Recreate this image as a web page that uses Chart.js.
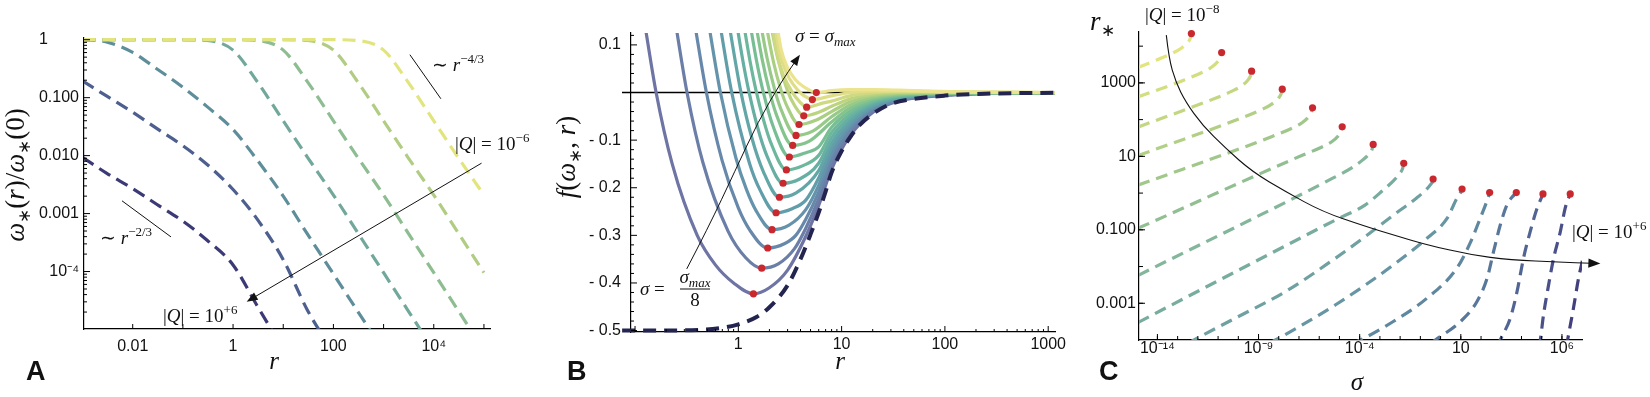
<!DOCTYPE html>
<html>
<head>
<meta charset="utf-8">
<script src="https://cdn.jsdelivr.net/npm/chart.js@4.4.1/dist/chart.umd.min.js"></script>
<style>
  html, body { margin: 0; padding: 0; background: #fff; }
  #wrap { position: relative; width: 1650px; height: 397px; overflow: hidden; }
  canvas { position: absolute; top: 0; }
</style>
</head>
<body>
<div id="wrap">
  <canvas id="chartA" width="540" height="397" style="left:0"></canvas>
  <canvas id="chartB" width="560" height="397" style="left:540px"></canvas>
  <canvas id="chartC" width="600" height="397" style="left:1050px"></canvas>
</div>
<script>
const SANS = "'Liberation Sans', Arial, sans-serif";
const SERIF = "'Liberation Serif', 'Times New Roman', serif";

// ---------- panel A : omega*(r)/omega*(0) vs r ----------
const aR = [0.001, 0.003, 0.01, 0.03, 0.1, 0.3, 1, 3, 10, 30, 100, 300, 1000, 3000, 1e4, 3e4, 1e5];
const aOmega1 = [0.0093, 0.0050, 0.0027, 0.00145, 7.4e-4, 3.5e-4, 1.3e-4, 2.6e-5, 4.5e-6, null, null, null, null, null, null, null, null];
const aOmega2 = [0.195, 0.107, 0.056, 0.0295, 0.0148, 0.0071, 0.0026, 8.1e-4, 1.6e-4, 2.2e-5, 4e-6, null, null, null, null, null, null];
const aOmega3 = [1, 0.912, 0.603, 0.316, 0.151, 0.0708, 0.0282, 0.0085, 0.002, 4.5e-4, 9.1e-5, 2.1e-5, 4.3e-6, null, null, null, null];
const aOmega4 = [1, 1, 1, 1, 1, 0.97, 0.661, 0.191, 0.0398, 0.00955, 0.00209, 4.79e-4, 9.55e-5, 2.19e-5, 4.37e-6, null, null];
const aOmega5 = [1, 1, 1, 1, 1, 1, 1, 0.97, 0.661, 0.191, 0.0398, 0.00955, 0.00209, 4.79e-4, 9.55e-5, 2.19e-5, 4.37e-6];
const aOmega6 = [1, 1, 1, 1, 1, 1, 1, 1, 1, 0.97, 0.661, 0.191, 0.0398, 0.00955, 0.00209, 4.79e-4, 9.55e-5];
const aOmega7 = [1, 1, 1, 1, 1, 1, 1, 1, 1, 1, 1, 0.97, 0.661, 0.191, 0.0398, 0.00955, 0.00209];
const aSeries = [aOmega1, aOmega2, aOmega3, aOmega4, aOmega5, aOmega6, aOmega7];
const aColors = ['#3b3a76', '#4d5f8f', '#5f8e9b', '#72a89c', '#8dbd91', '#b1cd83', '#e2e47e'];
const aXTicks = [0.01, 1, 100, 1e4];
const aXTickLabels = ['0.01', '1', '100', '10\u2074'];
const aYTicks = [1e-4, 0.001, 0.01, 0.1, 1];
const aYTickLabels = ['10\u207b\u2074', '0.001', '0.010', '0.100', '1\u2008\u2007\u2007\u2007'];
const aArrow = [[8.95e4, 7.41e-3], [1.866, 3.02e-5]];
const aSlopeSteep = [[3342, 0.551], [1.387e4, 0.0957]];
const aSlopeShallow = [[6.12e-3, 1.66e-3], [0.0579, 3.96e-4]];

// ---------- panel B : f(omega*, r) vs r ----------
const bCurves = [
  [[0.125, 0.14], [0.16, 0.0], [0.229, -0.15], [0.4, -0.3], [0.6, -0.362], [0.9, -0.400], [1.4, -0.4228], [2.0, -0.41], [3, -0.373], [4.5, -0.302], [6, -0.237], [8, -0.161], [12, -0.0915], [20, -0.0418], [35, -0.0184], [70, -0.0087], [200, -0.0028], [1200, -0.0005]],
  [[0.248, 0.142], [0.32, -0.002], [0.454, -0.147], [0.795, -0.291], [1.18, -0.347], [1.685, -0.369], [2.44, -0.360], [3.5, -0.328], [4.5, -0.285], [6, -0.2235], [8, -0.150], [12, -0.085], [20, -0.0386], [35, -0.0169], [70, -0.0079], [200, -0.0025], [1200, -0.0004]],
  [[0.381, 0.14], [0.49, 0.001], [0.697, -0.143], [1.0, -0.2425], [1.3, -0.29], [1.926, -0.3266], [2.79, -0.3176], [3.6, -0.30], [4.5, -0.266], [6, -0.209], [8, -0.139], [12, -0.0785], [20, -0.0354], [35, -0.0153], [70, -0.0072], [200, -0.0023], [1200, -0.0004]],
  [[0.519, 0.141], [0.668, 0.002], [0.949, -0.138], [1.2, -0.204], [1.484, -0.248], [2.12, -0.288], [3.07, -0.279], [4.5, -0.246], [6, -0.195], [8, -0.128], [12, -0.072], [20, -0.0323], [35, -0.0138], [70, -0.0064], [200, -0.002], [1200, -0.0004]],
  [[0.661, 0.146], [0.858, 0.003], [1.28, -0.148], [1.624, -0.205], [2.32, -0.2525], [3.36, -0.2435], [4.5, -0.226], [6, -0.1795], [8, -0.117], [12, -0.0655], [20, -0.0291], [35, -0.0122], [70, -0.0056], [200, -0.0018], [1200, -0.0003]],
  [[0.805, 0.149], [1.055, 0.003], [1.355, -0.096], [1.75, -0.1665], [2.5, -0.22], [3.63, -0.211], [6, -0.164], [8, -0.106], [12, -0.059], [20, -0.0259], [35, -0.0106], [70, -0.0048], [200, -0.0015], [1200, -0.0003]],
  [[0.952, 0.152], [1.1, 0.070], [1.258, 0.005], [1.55, -0.076], [1.9, -0.134], [2.71, -0.1906], [3.93, -0.1816], [6, -0.1485], [8, -0.095], [12, -0.0525], [20, -0.0227], [35, -0.0091], [70, -0.004], [200, -0.0013], [1200, -0.0003]],
  [[1.1, 0.158], [1.3, 0.065], [1.477, 0.006], [1.75, -0.057], [2.044, -0.103], [2.92, -0.1626], [4.23, -0.1536], [6, -0.132], [8, -0.084], [12, -0.046], [20, -0.0195], [35, -0.0075], [70, -0.0033], [200, -0.001], [1200, -0.0003]],
  [[1.25, 0.166], [1.5, 0.067], [1.74, 0.002], [2.184, -0.0725], [3.12, -0.1354], [4.52, -0.1264], [6, -0.114], [8, -0.073], [12, -0.0395], [20, -0.0163], [35, -0.0059], [70, -0.0025], [200, -0.0008], [1200, -0.0002]],
  [[1.4, 0.173], [1.7, 0.070], [2.0, 0.003], [2.35, -0.048], [3.36, -0.1111], [4.87, -0.1021], [8, -0.062], [12, -0.033], [20, -0.0131], [35, -0.0044], [70, -0.0017], [200, -0.0005], [1200, -0.0002]],
  [[1.55, 0.176], [1.9, 0.072], [2.25, 0.006], [2.534, -0.030], [3.62, -0.0902], [5.25, -0.0812], [8, -0.051], [12, -0.0265], [20, -0.0099], [35, -0.0028], [70, -0.0009], [200, -0.0003], [1200, -0.0002]],
  [[1.7, 0.188], [2.2, 0.062], [2.6, 0.004], [2.95, -0.028], [3.87, -0.0672], [5.61, -0.0582], [8, -0.040], [12, -0.020], [20, -0.0068], [35, -0.0013], [70, -0.0002], [200, 0.0], [1200, -0.0001]],
  [[1.9, 0.182], [2.4, 0.073], [3.0, 0.003], [3.5, -0.027], [4.3, -0.049], [6.24, -0.040], [8, -0.029], [12, -0.0135], [20, -0.0036], [35, 0.0003], [70, 0.0007], [200, 0.0003], [1200, -0.0001]],
  [[2.05, 0.17], [2.35, 0.085], [2.75, 0.035], [3.3, 0.002], [3.95, -0.02], [4.59, -0.0308], [6.66, -0.0218], [8, -0.018], [12, -0.007], [20, -0.0004], [35, 0.0019], [70, 0.0014], [200, 0.0005], [1200, -0.0001]],
  [[2.2, 0.16], [2.5, 0.085], [2.9, 0.043], [3.4, 0.017], [4.1, -0.003], [4.6, -0.010], [5.21, -0.0148], [8, -0.007], [12, -0.0005], [20, 0.0028], [35, 0.0034], [70, 0.0022], [200, 0.0008], [1200, 0]],
  [[2.3, 0.16], [2.6, 0.09], [3.0, 0.052], [3.54, 0.028], [4.3, 0.012], [5.0, 0.004], [5.69, -0.0002], [8, 0.004], [12, 0.006], [20, 0.006], [35, 0.005], [70, 0.003], [200, 0.001], [1200, 0]]
];
const bColors = ['#6e74a3', '#6b7ea8', '#6788aa', '#6493ab', '#629daa', '#62a6a7', '#66afa2', '#6db79c',
                 '#78be95', '#86c48e', '#97ca88', '#a9cf83', '#bcd480', '#cfd981', '#dfde86', '#ebe38d'];
const bMinR = [1.40, 1.685, 1.926, 2.12, 2.32, 2.50, 2.71, 2.92, 3.12, 3.36, 3.62, 3.87, 4.30, 4.59, 5.21, 5.69];
const bMinF = [-0.4228, -0.369, -0.3266, -0.288, -0.2525, -0.22, -0.1906, -0.1626, -0.1354, -0.1111, -0.0902, -0.0672, -0.049, -0.0308, -0.0148, -0.0002];
const bEnvelopeR = [0.075, 0.3, 0.7, 1, 1.5, 2, 3, 4, 5, 6, 7, 8, 10, 12, 15, 20, 30, 50, 100, 200, 1200];
const bEnvelopeF = [-0.5, -0.4995, -0.494, -0.487, -0.4715, -0.451, -0.405, -0.35, -0.298, -0.252, -0.208, -0.168, -0.123, -0.095, -0.068, -0.045, -0.024, -0.0135, -0.0065, -0.003, -0.0004];
const bXTicks = [1, 10, 100, 1000];
const bXTickLabels = ['1', '10', '100', '1000'];
const bYTicks = [-0.5, -0.4, -0.3, -0.2, -0.1, 0.1];
const bYTickLabels = ['- 0.5', '- 0.4', '- 0.3', '- 0.2', '- 0.1', '0.1'];
const bArrow = [[0.3166, -0.3705], [0.513, -0.2833], [0.929, -0.1648], [1.562, -0.0600], [2.63, 0.0236], [3.95, 0.0795]];

// ---------- panel C : r* vs sigma ----------
const cCurves = [
  [[1.12e-15, 2650], [4.79e-15, 3650], [4.79e-14, 6190], [1.51e-13, 8750], [3.02e-13, 12360], [4.27e-13, 16670], [4.79e-13, 21980]],
  [[1.12e-15, 418], [1.496e-13, 1112], [1.496e-12, 1888], [4.73e-12, 2667], [9.44e-12, 3767], [1.334e-11, 5082], [1.496e-11, 6699]],
  [[1.12e-15, 63.0], [4.54e-12, 345], [4.54e-11, 586], [1.436e-10, 828], [2.864e-10, 1170], [4.046e-10, 1578], [4.54e-10, 2080]],
  [[1.12e-15, 10.57], [1.489e-10, 111.9], [1.489e-9, 190.1], [4.71e-9, 268.5], [9.40e-9, 379.3], [1.327e-8, 511.7], [1.489e-8, 674.5]],
  [[1.12e-15, 1.648], [4.667e-9, 34.75], [4.667e-8, 59.02], [1.476e-7, 83.37], [2.944e-7, 117.8], [4.159e-7, 158.9], [4.667e-7, 209.4]],
  [[1.12e-15, 0.1104], [1.368e-7, 10.57], [1.368e-6, 17.95], [4.325e-6, 25.35], [8.63e-6, 35.81], [1.219e-5, 48.31], [1.368e-5, 63.68]],
  [[1.12e-15, 5.754e-3], [4.645e-6, 2.547], [4.645e-5, 5.082], [1.469e-4, 8.128], [2.931e-4, 11.75], [4.140e-4, 15.85], [4.645e-4, 21.18]],
  [[1.12e-15, 3.02e-4], [1.66e-12, 2.455e-3], [3.236e-9, 2.138e-2], [6.457e-6, 0.1862], [1.905e-4, 0.4786], [1.507e-3, 1.230], [4.764e-3, 2.188], [9.506e-3, 3.388], [1.343e-2, 4.786], [1.507e-2, 6.457]],
  [[3.162e-13, 7.943e-5], [6.457e-13, 1e-4], [7.413e-11, 3.981e-4], [2.188e-8, 2.089e-3], [6.457e-6, 1.698e-2], [1.950e-4, 6.607e-2], [4.786e-3, 0.2541], [6.310e-2, 0.7244], [0.1995, 1.259], [0.3388, 1.778], [0.4074, 2.089], [0.4266, 2.415]],
  [[3.162e-9, 7.943e-5], [6.918e-9, 1e-4], [1.445e-7, 2.570e-4], [6.457e-6, 9.12e-4], [1.950e-4, 3.162e-3], [4.786e-3, 1.122e-2], [0.2138, 5.888e-2], [2.089, 0.2042], [6.457, 0.7244], [9.333, 1.0], [11.09, 1.148], [11.53, 1.291]],
  [[3.981e-5, 7.943e-5], [1.096e-4, 1e-4], [4.786e-3, 3.236e-4], [0.2138, 1.380e-3], [6.457, 9.120e-3], [29.51, 4.467e-2], [89.13, 0.1995], [177.8, 0.5248], [239.9, 0.8318], [266.1, 1.033]],
  [[0.3162, 7.943e-5], [0.5495, 1e-4], [9.550, 3.162e-4], [63.10, 1.122e-3], [199.5, 4.786e-3], [416.9, 2.570e-2], [891.3, 0.1349], [1905, 0.4786], [3548, 0.7943], [4898, 0.955], [5534, 1.033]],
  [[631, 6.31e-5], [891.3, 1e-4], [2818, 3.981e-4], [6026, 2.089e-3], [1.259e4, 1.698e-2], [2.692e4, 8.913e-2], [5.888e4, 0.389], [8.913e4, 0.6761], [1.072e5, 0.8511], [1.153e5, 0.9506]],
  [[7.079e4, 6.31e-5], [8.511e4, 1e-4], [1.230e5, 4.898e-4], [2.188e5, 3.162e-3], [3.890e5, 1.698e-2], [8.318e5, 8.913e-2], [1.445e6, 0.389], [1.995e6, 0.6761], [2.399e6, 0.8511], [2.570e6, 0.9506]],
  [[1.660e6, 6.31e-5], [1.905e6, 1e-4], [3.715e6, 7.413e-4], [6.607e6, 4.786e-3], [1.096e7, 1.698e-2], [1.995e7, 7.943e-2]]
];
const cColors = ['#e2e47e', '#d3de7f', '#c3d782', '#b2cf86', '#a1c78b', '#91bf92', '#83b69a', '#78ac9f',
                 '#6fa1a2', '#6695a3', '#5f87a0', '#58779a', '#516493', '#4a518a', '#42407d'];
const cPeakSigma = [4.79e-13, 1.496e-11, 4.54e-10, 1.489e-8, 4.667e-7, 1.368e-5, 4.645e-4, 1.507e-2, 0.4266, 11.53, 266.1, 5534, 1.153e5, 2.570e6];
const cPeakR = [21980, 6699, 2080, 674.5, 209.4, 63.68, 21.18, 6.457, 2.415, 1.291, 1.033, 1.033, 0.9506, 0.9506];
const cArrow = [[2.754e-14, 1.995e4], [3.715e-14, 4571], [7.943e-14, 1072], [2.512e-13, 302], [1.66e-12, 70.8], [2.344e-11, 16.6],
                [4.898e-10, 3.80], [2.188e-8, 1.096], [1.413e-6, 0.3126], [1.950e-4, 0.123], [4.786e-3, 0.0724], [0.2138, 0.0389],
                [29.51, 0.0209], [2818, 0.0151], [8.318e5, 0.0132], [7.943e7, 0.01202]];
const cXTicks = [1e-14, 1e-9, 1e-4, 10, 1e6];
const cXTickLabels = ['10\u207b\u00b9\u2074', '10\u207b\u2079', '10\u207b\u2074', '10', '10\u2076'];
const cYTicks = [0.001, 0.1, 10, 1000];
const cYTickLabels = ['0.001', '0.100', '10', '1000'];

// ---------- helpers ----------
function decades(lo, hi, mults) {
  const out = [];
  for (let e = lo; e <= hi; e++) mults.forEach(m => out.push(m * Math.pow(10, e)));
  return out;
}

function axis(o) {
  return {
    type: o.type, position: o.position, min: o.min, max: o.max, bounds: 'data',
    grid: { display: false, drawTicks: false },
    border: { display: true, color: '#000', width: 1.2 },
    ticks: {
      autoSkip: false, maxRotation: 0, minRotation: 0, padding: o.pad, color: '#111',
      font: { family: SANS, size: 16 },
      callback: (v, i) => o.labels[i]
    },
    afterBuildTicks: s => { s.ticks = o.ticks.map(v => ({ value: v })); },
    afterFit: s => { if (o.position === 'bottom') s.height = o.size; else s.width = o.size; }
  };
}

function inTicks(chart, id, values, len) {
  const s = chart.scales[id], a = chart.chartArea, ctx = chart.ctx;
  ctx.save();
  ctx.strokeStyle = '#000';
  ctx.lineWidth = 1;
  ctx.beginPath();
  values.forEach(v => {
    const p = s.getPixelForValue(v);
    if (s.isHorizontal()) {
      if (p < a.left + 1 || p > a.right + 0.5) return;
      ctx.moveTo(p, a.bottom); ctx.lineTo(p, a.bottom - len);
    } else {
      if (p < a.top - 0.5 || p > a.bottom - 1) return;
      ctx.moveTo(a.left, p); ctx.lineTo(a.left + len, p);
    }
  });
  ctx.stroke();
  ctx.restore();
}

function runs(ctx, parts, x, y, align) {
  let w = 0;
  parts.forEach(p => { ctx.font = p[1]; w += ctx.measureText(p[0]).width; });
  let cx = align === 'center' ? x - w / 2 : x;
  ctx.textAlign = 'left';
  ctx.textBaseline = 'alphabetic';
  parts.forEach(p => {
    ctx.font = p[1];
    ctx.fillText(p[0], cx, y + (p[2] || 0));
    cx += ctx.measureText(p[0]).width;
  });
}
const fs = (size, style) => (style ? style + ' ' : '') + size + 'px ' + SERIF;

function toPx(chart, pts) {
  return pts.map(p => [chart.scales.x.getPixelForValue(p[0]), chart.scales.y.getPixelForValue(p[1])]);
}

function arrowPath(ctx, px, head) {
  const n = px.length;
  const tip = px[n - 1], prev = px[n - 2];
  const dx = tip[0] - prev[0], dy = tip[1] - prev[1], d = Math.hypot(dx, dy);
  const ux = dx / d, uy = dy / d;
  const end = [tip[0] - ux * head * 0.8, tip[1] - uy * head * 0.8];
  ctx.beginPath();
  ctx.moveTo(px[0][0], px[0][1]);
  if (n === 2) {
    ctx.lineTo(end[0], end[1]);
  } else {
    for (let i = 1; i < n - 1; i++) {
      const nx = i + 1 === n - 1 ? end : px[i + 1];
      ctx.quadraticCurveTo(px[i][0], px[i][1], (px[i][0] + nx[0]) / 2, (px[i][1] + nx[1]) / 2);
    }
    ctx.lineTo(end[0], end[1]);
  }
  ctx.stroke();
  const bx = tip[0] - ux * head, by = tip[1] - uy * head, hw = head * 0.38;
  ctx.beginPath();
  ctx.moveTo(tip[0], tip[1]);
  ctx.lineTo(bx - uy * hw, by + ux * hw);
  ctx.lineTo(bx + uy * hw, by - ux * hw);
  ctx.closePath();
  ctx.fill();
}

function segment(chart, pts) {
  const px = toPx(chart, pts), ctx = chart.ctx;
  ctx.beginPath(); ctx.moveTo(px[0][0], px[0][1]); ctx.lineTo(px[1][0], px[1][1]); ctx.stroke();
}

const decor = {
  id: 'decor',
  beforeDatasetsDraw(chart, args, opts) { if (opts.under) opts.under(chart, chart.ctx); },
  afterDraw(chart, args, opts) {
    const ctx = chart.ctx;
    (opts.ticks || []).forEach(t => inTicks(chart, t[0], t[1], t[2]));
    ctx.save();
    ctx.fillStyle = '#111';
    ctx.strokeStyle = '#111';
    ctx.lineWidth = 1;
    if (opts.over) opts.over(chart, ctx);
    ctx.restore();
  }
};
Chart.register(decor);

const common = {
  responsive: false, animation: false, events: [],
  plugins: { legend: { display: false }, tooltip: { enabled: false } }
};

function lineSet(data, color, width, dash, order, clip) {
  return {
    data, borderColor: color, borderWidth: width, borderDash: dash || [], pointRadius: 0,
    fill: false, cubicInterpolationMode: 'monotone', order, clip: clip === undefined ? 0 : clip
  };
}
function dotSet(data) {
  return {
    data, showLine: false, pointRadius: 3.6, pointBackgroundColor: '#c8282e',
    pointBorderWidth: 0, order: 0, clip: false
  };
}

// ---------- chart A ----------
new Chart(document.getElementById('chartA'), {
  type: 'line',
  data: {
    datasets: aSeries.map((vals, i) => lineSet(
      vals.map((v, j) => ({ x: aR[j], y: v })).filter(p => p.y !== null),
      aColors[i], 3.2, [13, 7], 20 - i))
  },
  options: Object.assign({}, common, {
    layout: { padding: { left: 0, right: 50, top: 38, bottom: 0 }, autoPadding: false },
    plugins: Object.assign({}, common.plugins, {
      decor: {
        ticks: [
          ['x', decades(-2, 5, [1]), 5],
          ['y', decades(-5, 0, [1]), 6],
          ['y', decades(-5, 0, [2, 3, 4, 5, 6, 7, 8, 9]), 3]
        ],
        over(chart, ctx) {
          ctx.lineWidth = 1;
          segment(chart, aSlopeSteep);
          segment(chart, aSlopeShallow);
          arrowPath(ctx, toPx(chart, aArrow), 11);
          runs(ctx, [['\u223c ', fs(19)], ['r', fs(19, 'italic')], ['\u22124/3', fs(13), -8]], 432, 71);
          runs(ctx, [['\u223c ', fs(19)], ['r', fs(19, 'italic')], ['\u22122/3', fs(13), -8]], 100, 244);
          runs(ctx, [['|', fs(19)], ['Q', fs(19, 'italic')], ['| = 10', fs(19)], ['\u22126', fs(13), -8]], 455, 150);
          runs(ctx, [['|', fs(19)], ['Q', fs(19, 'italic')], ['| = 10', fs(19)], ['+6', fs(13), -8]], 163, 322);
          runs(ctx, [['r', fs(25, 'italic')]], 274, 369, 'center');
          ctx.save();
          ctx.translate(24, 175);
          ctx.rotate(-Math.PI / 2);
          runs(ctx, [['\u03c9', fs(27, 'italic')], ['\u2217', fs(17), 6], ['(', fs(27)], ['r', fs(27, 'italic')], [')/', fs(27)],
                     ['\u03c9', fs(27, 'italic')], ['\u2217', fs(17), 6], ['(0)', fs(27)]], 0, 0, 'center');
          ctx.restore();
          ctx.font = 'bold 27px ' + SANS;
          ctx.fillText('A', 26, 380);
        }
      }
    }),
    scales: {
      x: axis({ type: 'logarithmic', position: 'bottom', min: 0.00107, max: 1.32e5, ticks: aXTicks, labels: aXTickLabels, pad: 8, size: 68 }),
      y: axis({ type: 'logarithmic', position: 'left', min: 1.02e-5, max: 1.07, ticks: aYTicks, labels: aYTickLabels, pad: 5, size: 84 })
    }
  })
});

// ---------- chart B ----------
const bDatasets = [dotSet(bMinR.map((r, i) => ({ x: r, y: bMinF[i] })))];
bDatasets.push(lineSet(bEnvelopeR.map((r, i) => ({ x: r, y: bEnvelopeF[i] })), '#23244f', 4, [13, 8], 1,
  { left: 10, top: 0, right: 0, bottom: 4 }));
bCurves.forEach((c, i) => bDatasets.push(lineSet(c.map(p => ({ x: p[0], y: p[1] })), bColors[i], 3.2, [], 40 - i)));

new Chart(document.getElementById('chartB'), {
  type: 'line',
  data: { datasets: bDatasets },
  options: Object.assign({}, common, {
    layout: { padding: { left: 0, right: 45, top: 33, bottom: 0 }, autoPadding: false },
    plugins: Object.assign({}, common.plugins, {
      decor: {
        under(chart, ctx) {
          const y0 = chart.scales.y.getPixelForValue(0);
          ctx.save();
          ctx.strokeStyle = '#000';
          ctx.lineWidth = 1.4;
          ctx.beginPath();
          ctx.moveTo(chart.chartArea.left - 9, y0);
          ctx.lineTo(chart.chartArea.right, y0);
          ctx.stroke();
          ctx.restore();
        },
        ticks: [
          ['x', decades(-1, 3, [1]), 6],
          ['x', decades(-2, 3, [2, 3, 4, 5, 6, 7, 8, 9]), 3],
          ['y', [-0.5, -0.4, -0.3, -0.2, -0.1, 0, 0.1], 6],
          ['y', [-0.48, -0.46, -0.44, -0.42, -0.38, -0.36, -0.34, -0.32, -0.28, -0.26, -0.24, -0.22, -0.18, -0.16, -0.14, -0.12,
                 -0.08, -0.06, -0.04, -0.02, 0.02, 0.04, 0.06, 0.08, 0.12], 3]
        ],
        over(chart, ctx) {
          ctx.lineWidth = 1;
          arrowPath(ctx, toPx(chart, bArrow), 11);
          runs(ctx, [['\u03c3', fs(19, 'italic')], [' = ', fs(19)], ['\u03c3', fs(19, 'italic')], ['max', fs(13, 'italic'), 4]], 255, 42);
          runs(ctx, [['\u03c3', fs(19, 'italic')], [' = ', fs(19)]], 100, 295);
          runs(ctx, [['\u03c3', fs(19, 'italic')], ['max', fs(13, 'italic'), 4]], 155, 283, 'center');
          ctx.fillRect(140, 288.5, 30, 1);
          runs(ctx, [['8', fs(19)]], 155, 306, 'center');
          runs(ctx, [['r', fs(25, 'italic')]], 300, 369, 'center');
          ctx.save();
          ctx.translate(35, 157);
          ctx.rotate(-Math.PI / 2);
          runs(ctx, [['f', fs(27, 'italic')], ['(', fs(27)], ['\u03c9', fs(27, 'italic')], ['\u2217', fs(17), 6], [', ', fs(27)],
                     ['r', fs(27, 'italic')], [')', fs(27)]], 0, 0, 'center');
          ctx.restore();
          ctx.font = 'bold 27px ' + SANS;
          ctx.fillText('B', 27, 380);
        }
      }
    }),
    scales: {
      x: axis({ type: 'logarithmic', position: 'bottom', min: 0.0914, max: 1164, ticks: bXTicks, labels: bXTickLabels, pad: 3, size: 65 }),
      y: axis({ type: 'linear', position: 'left', min: -0.503, max: 0.125, ticks: bYTicks, labels: bYTickLabels, pad: 10, size: 91 })
    }
  })
});

// ---------- chart C ----------
const cDatasets = [dotSet(cPeakSigma.map((s, i) => ({ x: s, y: cPeakR[i] })))];
cCurves.forEach((c, i) => cDatasets.push(lineSet(c.map(p => ({ x: p[0], y: p[1] })), cColors[i], 3.2, [12, 7], 40 - i)));

new Chart(document.getElementById('chartC'), {
  type: 'line',
  data: { datasets: cDatasets },
  options: Object.assign({}, common, {
    layout: { padding: { left: 0, right: 68, top: 32, bottom: 0 }, autoPadding: false },
    plugins: Object.assign({}, common.plugins, {
      decor: {
        ticks: [
          ['x', decades(-14, 6, [1]), 4],
          ['x', cXTicks, 6],
          ['y', decades(-3, 4, [1]), 4],
          ['y', cYTicks, 6]
        ],
        over(chart, ctx) {
          ctx.lineWidth = 1.1;
          arrowPath(ctx, toPx(chart, cArrow), 12);
          runs(ctx, [['|', fs(19)], ['Q', fs(19, 'italic')], ['| = 10', fs(19)], ['\u22128', fs(13), -8]], 95, 21);
          runs(ctx, [['|', fs(19)], ['Q', fs(19, 'italic')], ['| = 10', fs(19)], ['+6', fs(13), -8]], 522, 238);
          runs(ctx, [['\u03c3', fs(25, 'italic')]], 307, 390, 'center');
          runs(ctx, [['r', fs(27, 'italic')], ['\u2217', fs(17), 6]], 40, 30);
          ctx.font = 'bold 27px ' + SANS;
          ctx.fillText('C', 49, 380);
        }
      }
    }),
    scales: {
      x: axis({ type: 'logarithmic', position: 'bottom', min: 1.23e-15, max: 9.8e6, ticks: cXTicks, labels: cXTickLabels, pad: -1, size: 57 }),
      y: axis({ type: 'logarithmic', position: 'left', min: 1e-4, max: 2.43e4, ticks: cYTicks, labels: cYTickLabels, pad: 3, size: 89 })
    }
  })
});
</script>
</body>
</html>
